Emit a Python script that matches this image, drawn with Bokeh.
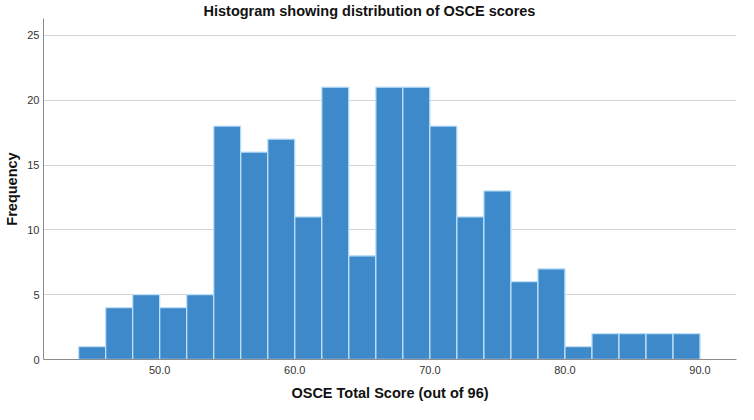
from bokeh.plotting import figure
from bokeh.models import Range1d, FixedTicker, Title, CustomJSTickFormatter
from bokeh.embed import file_html
from bokeh.resources import INLINE

# Data: histogram bins (width 2) and frequencies
bin_start = 44.0
bin_width = 2.0
counts = [1, 4, 5, 4, 5, 18, 16, 17, 11, 21, 8, 21, 21, 18, 11, 13, 6, 7, 1, 2, 2, 2, 2]
x_ticks = [50, 60, 70, 80, 90]
y_ticks = [0, 5, 10, 15, 20, 25]
title_text = "Histogram showing distribution of OSCE scores"
x_label = "OSCE Total Score (out of 96)"
y_label = "Frequency"

lefts = [bin_start + i * bin_width for i in range(len(counts))]
rights = [l + bin_width for l in lefts]
bottoms = [0] * len(counts)

W, H = 738, 404
p = figure(width=W, height=H, output_backend="svg", toolbar_location=None,
           x_range=Range1d(41.4, 92.7), y_range=Range1d(0, 26.3),
           min_border_left=43, min_border_right=2, min_border_top=17, min_border_bottom=45)
p.outline_line_color = None
p.background_fill_color = "white"
p.border_fill_color = "white"

p.quad(left=lefts, right=rights, bottom=bottoms, top=counts,
       fill_color="#3d89c9", line_color="#bde0f8", line_width=1.3)

# axes
p.xaxis.ticker = FixedTicker(ticks=x_ticks)
p.xaxis.formatter = CustomJSTickFormatter(code="return tick.toFixed(1);")
p.yaxis.ticker = FixedTicker(ticks=y_ticks)
for ax in (p.xaxis[0], p.yaxis[0]):
    ax.axis_line_color = "#8c8c8c"
    ax.axis_line_width = 1
    ax.major_tick_line_color = None
    ax.minor_tick_line_color = None
    ax.major_tick_in = 0
    ax.major_tick_out = 0
    ax.major_label_text_font = "Liberation Sans"
    ax.major_label_text_font_size = "11px"
    ax.major_label_text_color = "#333333"
    ax.axis_label_text_font = "Liberation Sans"
    ax.axis_label_text_font_style = "bold"
    ax.axis_label_text_font_size = "14.5px"
    ax.axis_label_text_color = "#111111"
p.xaxis.major_label_standoff = 6
p.yaxis.major_label_standoff = 4
p.xaxis.axis_label = x_label
p.yaxis.axis_label = y_label
p.xaxis.axis_label_standoff = 8
p.yaxis.axis_label_standoff = 4

p.xgrid.grid_line_color = None
p.ygrid.ticker = FixedTicker(ticks=[5, 10, 15, 20, 25])
p.ygrid.grid_line_color = "#d4d4d4"
p.ygrid.grid_line_width = 1

t = Title(text=title_text, align="left", offset=160, standoff=0,
          text_font="Liberation Sans", text_font_style="bold",
          text_font_size="14.5px", text_color="#111111")
p.add_layout(t, "above")

open("out.html", "w").write(file_html(p, INLINE))
